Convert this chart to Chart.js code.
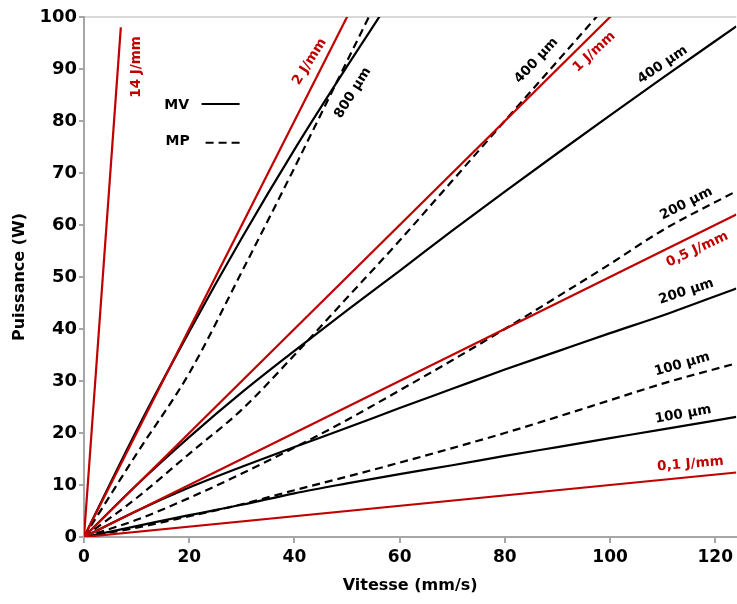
<!DOCTYPE html>
<html>
<head>
<meta charset="utf-8">
<script src="https://cdn.jsdelivr.net/npm/chart.js@4/dist/chart.umd.min.js"></script>
<style>
html,body{margin:0;padding:0;background:#fff;}
#wrap{width:737px;height:604px;position:relative;}
</style>
</head>
<body>
<div id="wrap"><canvas id="c" width="737" height="604"></canvas></div>
<script>
// Vitesse (mm/s) sample points for the measured curves
const vitesse = [0, 10, 20, 30, 40, 50, 60, 70, 80, 90, 100, 110, 124];

// MV (solid) curves, Puissance (W)
const mv800 = [0, 20.5, 39.5, 57.5, 74.5, 90.5, 106, null, null, null, null, null, null];
const mv400 = [0, 10, 19.2, 27.8, 35.8, 43.6, 51.2, 58.9, 66.4, 73.8, 81.1, 88.3, 98.2];
const mv200 = [0, 5, 9.5, 13.5, 17.3, 21, 24.8, 28.5, 32.2, 35.7, 39.2, 42.6, 47.8];
const mv100 = [0, 2.1, 4.2, 6.2, 8.4, 10.3, 12.1, 13.8, 15.6, 17.3, 19, 20.7, 23.1];

// MP (dashed) curves, Puissance (W)
const mp800 = [0, 16, 31.5, 51, 71, 91.5, 112, null, null, null, null, null, null];
const mp400 = [0, 7.5, 16, 24.5, 35, 46, 57, 68.5, 80, 91.5, 103, null, null];
const mp200 = [0, 3.3, 7.5, 12.2, 17.2, 22.5, 28.2, 34, 40, 46.2, 52.5, 59, 66.5];
const mp100 = [0, 1.8, 4.0, 6.3, 9.0, 11.6, 14.3, 17.1, 20, 23.1, 26.3, 29.5, 33.4];

// Iso-energy lines (J/mm): end points
const energies = [0.1, 0.5, 1, 2];
const energyV = [0, 124];
const e14V = [0, 7];
const e14P = [0, 98];

// Axis ticks
const xTicks = [0, 20, 40, 60, 80, 100, 120];
const yTicks = [0, 10, 20, 30, 40, 50, 60, 70, 80, 90, 100];

// Annotation labels (data-space anchors)
const labelText = ['14 J/mm', '2 J/mm', '800 µm', '400 µm', '1 J/mm', '400 µm', '200 µm', '0,5 J/mm', '200 µm', '100 µm', '100 µm', '0,1 J/mm'];
const labelV =    [9.9, 42.9, 51.1, 86.0, 97.0, 110.0, 114.5, 116.6, 114.5, 113.7, 113.9, 115.3];
const labelP =    [90.4, 91.4, 85.4, 91.6, 93.3, 90.8, 64.1, 55.3, 47.2, 33.2, 23.6, 14.0];
const labelAng =  [-90, -58, -58, -47, -43, -34, -27, -25, -18, -16, -10, -5];
const labelRed =  [true, true, false, false, true, false, false, true, false, false, false, true];

const RED = '#c00000';
const BLACK = '#000000';
const FONT = '"DejaVu Sans", Verdana, sans-serif';

function pts(xs, ys) {
  const out = [];
  xs.forEach((x, i) => { if (ys[i] !== null && ys[i] !== undefined) out.push({x: x, y: ys[i]}); });
  return out;
}

const datasets = [];
energies.forEach(e => {
  datasets.push({data: pts(energyV, energyV.map(v => v * e)), borderColor: RED, borderWidth: 2.2});
});
datasets.push({data: pts(e14V, e14P), borderColor: RED, borderWidth: 2.2});
[mv800, mv400, mv200, mv100].forEach(s => {
  datasets.push({data: pts(vitesse, s), borderColor: BLACK, borderWidth: 2.2, cubicInterpolationMode: 'monotone'});
});
[mp800, mp400, mp200, mp100].forEach(s => {
  datasets.push({data: pts(vitesse, s), borderColor: BLACK, borderWidth: 2.2, borderDash: [8, 5], cubicInterpolationMode: 'monotone'});
});

const annotPlugin = {
  id: 'annot',
  afterDatasetsDraw(chart) {
    const ctx = chart.ctx;
    const xs = chart.scales.x, ys = chart.scales.y;
    ctx.save();
    ctx.font = 'bold 13.5px ' + FONT;
    ctx.textAlign = 'center';
    ctx.textBaseline = 'middle';
    labelText.forEach((t, i) => {
      ctx.save();
      ctx.translate(xs.getPixelForValue(labelV[i]), ys.getPixelForValue(labelP[i]));
      ctx.rotate(labelAng[i] * Math.PI / 180);
      ctx.fillStyle = labelRed[i] ? RED : BLACK;
      ctx.fillText(t, 0, 0);
      ctx.restore();
    });
    // legend
    const lx = xs.getPixelForValue(17.6), ly1 = ys.getPixelForValue(83.1), ly2 = ys.getPixelForValue(76);
    ctx.font = 'bold 14px ' + FONT;
    ctx.fillStyle = BLACK;
    ctx.fillText('MV', lx, ly1);
    ctx.fillText('MP', lx + 1, ly2);
    ctx.strokeStyle = BLACK;
    ctx.lineWidth = 2;
    ctx.beginPath();
    ctx.moveTo(lx + 25, ly1 - 1); ctx.lineTo(lx + 63, ly1 - 1);
    ctx.stroke();
    ctx.setLineDash([8, 5]);
    ctx.beginPath();
    ctx.moveTo(lx + 29, ly2 + 1); ctx.lineTo(lx + 63, ly2 + 1);
    ctx.stroke();
    ctx.restore();
  }
};

new Chart(document.getElementById('c'), {
  type: 'line',
  data: {datasets: datasets},
  plugins: [annotPlugin],
  options: {
    responsive: false,
    animation: false,
    events: [],
    layout: {padding: {top: 17, right: 0, bottom: 0, left: 0}},
    elements: {point: {radius: 0}, line: {tension: 0}},
    plugins: {legend: {display: false}, tooltip: {enabled: false}},
    scales: {
      x: {
        type: 'linear', min: 0, max: 124,
        afterFit(s) { s.height = 67; },
        afterBuildTicks(s) { s.ticks = xTicks.map(v => ({value: v})); },
        grid: {color: 'rgba(0,0,0,0)', tickColor: '#a6a6a6', tickLength: 6, lineWidth: 2},
        border: {color: '#a6a6a6', width: 2},
        ticks: {color: BLACK, font: {family: FONT, size: 17, weight: 'bold'}, padding: 4, maxRotation: 0},
        title: {display: true, text: 'Vitesse (mm/s)', color: BLACK, font: {family: FONT, size: 16, weight: 'bold'}, padding: {top: 0, bottom: 9}}
      },
      y: {
        type: 'linear', min: 0, max: 100,
        afterFit(s) { s.width = 84; },
        afterBuildTicks(s) { s.ticks = yTicks.map(v => ({value: v})); },
        grid: {color: ctx => (ctx.tick && ctx.tick.value === 100) ? '#d9d9d9' : 'rgba(0,0,0,0)', tickColor: '#a6a6a6', tickLength: 5, lineWidth: 2},
        border: {color: '#a6a6a6', width: 2},
        ticks: {color: BLACK, font: {family: FONT, size: 18, weight: 'bold'}, padding: 2},
        title: {display: true, text: 'Puissance (W)', color: BLACK, font: {family: FONT, size: 16, weight: 'bold'}, padding: {top: 10, bottom: 0}}
      }
    }
  }
});
</script>
</body>
</html>
